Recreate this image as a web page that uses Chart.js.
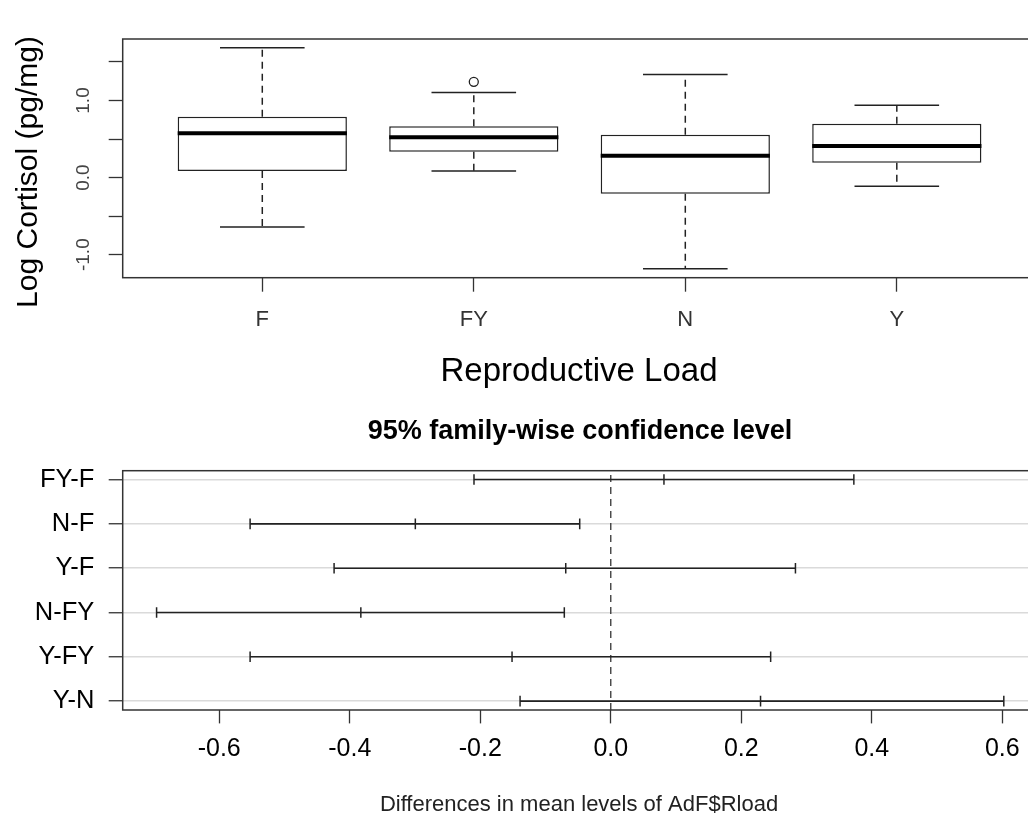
<!DOCTYPE html>
<html><head><meta charset="utf-8">
<script src="https://cdn.jsdelivr.net/npm/chart.js@4.4.0/dist/chart.umd.min.js"></script>
<style>
html,body{margin:0;padding:0;background:#fff;overflow:hidden;width:1028px;height:818px;}
#c1{position:absolute;left:0;top:0;}
#c2{position:absolute;left:0;top:400px;}
</style></head><body>
<canvas id="c1" width="1060" height="400"></canvas>
<canvas id="c2" width="1060" height="418"></canvas>
<script>
// ---------- Top panel: box plot ----------
const groups = ['F', 'FY', 'N', 'Y'];
const whiskerLow = [-0.640, 0.085, -1.184, -0.113];
const q1 = [0.085, 0.335, -0.209, 0.193];
const median = [0.574, 0.522, 0.284, 0.409];
const q3 = [0.789, 0.665, 0.556, 0.698];
const whiskerHigh = [1.683, 1.105, 1.338, 0.937];
const outlierGroup = ['FY'];
const outlierValue = [1.242];
const cortisolTicks = [-1.0, -0.5, 0, 0.5, 1.0, 1.5];
const cortisolTickLabels = ['-1.0', '', '0.0', '', '1.0', ''];

// ---------- Bottom panel: Tukey HSD ----------
const comparisons = ['FY-F', 'N-F', 'Y-F', 'N-FY', 'Y-FY', 'Y-N'];
const diff = [0.0815, -0.2995, -0.069, -0.383, -0.1513, 0.2295];
const lwr = [-0.2096, -0.5527, -0.424, -0.696, -0.5527, -0.139];
const upr = [0.3725, -0.0476, 0.283, -0.0712, 0.245, 0.6023];
const diffTicks = [-0.6, -0.4, -0.2, 0, 0.2, 0.4, 0.6];
const diffTickLabels = ['-0.6', '-0.4', '-0.2', '0.0', '0.2', '0.4', '0.6'];

const FONT = "'Liberation Sans', Arial, Helvetica, sans-serif";
Chart.defaults.font.family = FONT;
const INK = '#222';

function rExtend(lo, hi) { const d = (hi - lo) * 0.04; return [lo - d, hi + d]; }

function framePlugin(texts) {
  return {
    id: 'frame',
    afterDraw(chart) {
      const {ctx, chartArea: a} = chart;
      ctx.save();
      ctx.strokeStyle = '#333';
      ctx.lineWidth = 1.5;
      ctx.strokeRect(a.left, a.top, a.right - a.left, a.bottom - a.top);
      texts.forEach(t => {
        ctx.save();
        ctx.fillStyle = t.color || '#000';
        ctx.font = t.font;
        ctx.textAlign = 'center';
        ctx.textBaseline = 'alphabetic';
        ctx.translate(t.x, t.y);
        if (t.rot) ctx.rotate(t.rot);
        ctx.fillText(t.text, 0, 0);
        ctx.restore();
      });
      ctx.restore();
    }
  };
}

// ---- build top chart ----
const boxHalf = 0.4, capHalf = 0.2;
const gap = x => ({x, y: null});
const boxData = groups.map((g, i) => ({x: i + 1, y: [q1[i], q3[i]]}));
const medianPts = [], capPts = [], whiskPts = [];
groups.forEach((g, i) => {
  const x = i + 1;
  medianPts.push({x: x - boxHalf, y: median[i]}, {x: x + boxHalf, y: median[i]}, gap(x));
  capPts.push({x: x - capHalf, y: whiskerHigh[i]}, {x: x + capHalf, y: whiskerHigh[i]}, gap(x),
              {x: x - capHalf, y: whiskerLow[i]}, {x: x + capHalf, y: whiskerLow[i]}, gap(x));
  whiskPts.push({x, y: q3[i]}, {x, y: whiskerHigh[i]}, gap(x), {x, y: q1[i]}, {x, y: whiskerLow[i]}, gap(x));
});
const outlierPts = outlierGroup.map((g, k) => ({x: groups.indexOf(g) + 1, y: outlierValue[k]}));
const allTop = whiskerLow.concat(whiskerHigh, outlierValue);
const [yTopMin, yTopMax] = rExtend(Math.min(...allTop), Math.max(...allTop));
const [xTopMin, xTopMax] = rExtend(0.5, groups.length + 0.5);

new Chart(document.getElementById('c1'), {
  type: 'bar',
  data: {
    datasets: [
      {type: 'line', data: medianPts, borderColor: '#000', borderWidth: 4, borderCapStyle: 'butt', pointRadius: 0, order: 0},
      {type: 'line', data: capPts, borderColor: INK, borderWidth: 1.5, pointRadius: 0, order: 1},
      {type: 'line', data: whiskPts, borderColor: INK, borderWidth: 1.5, borderDash: [7, 5], pointRadius: 0, order: 2},
      {type: 'scatter', data: outlierPts, pointStyle: 'circle', pointRadius: 4.5, borderColor: INK, backgroundColor: '#fff', pointBorderWidth: 1.3, borderWidth: 1.3, order: 3},
      {type: 'bar', data: boxData, backgroundColor: '#fff', borderColor: INK, borderWidth: 1.5, borderSkipped: false,
       barPercentage: 0.8, categoryPercentage: 1.0, order: 4}
    ]
  },
  options: {
    responsive: false, animation: false, devicePixelRatio: 1, events: [],
    layout: {padding: {left: 0, top: 39, right: 1060 - 1036.4, bottom: 0}},
    plugins: {legend: {display: false}, tooltip: {enabled: false}, title: {display: false}},
    scales: {
      x: {
        type: 'linear', min: xTopMin, max: xTopMax, offset: false,
        afterBuildTicks: s => { s.ticks = groups.map((g, i) => ({value: i + 1})); },
        afterFit: s => { s.height = 400 - 277.7; },
        border: {display: false},
        grid: {offset: false, drawOnChartArea: false, drawTicks: true, tickLength: 14, tickColor: '#333', tickWidth: 1.3},
        ticks: {callback: (v, i) => groups[i], font: {size: 22}, color: '#333', padding: 15, maxRotation: 0, autoSkip: false}
      },
      y: {
        type: 'linear', min: yTopMin, max: yTopMax,
        afterBuildTicks: s => { s.ticks = cortisolTicks.map(v => ({value: v})); },
        afterFit: s => { s.width = 122.7; },
        border: {display: false},
        grid: {drawOnChartArea: false, drawTicks: true, tickLength: 14, tickColor: '#333', tickWidth: 1.3},
        ticks: {callback: (v, i) => cortisolTickLabels[i], font: {size: 19}, color: '#444', padding: 9,
                minRotation: 90, maxRotation: 90, crossAlign: 'center', autoSkip: false}
      }
    }
  },
  plugins: [framePlugin([
    {text: 'Log Cortisol (pg/mg)', font: '30px ' + FONT, x: 36.7, y: 172, rot: -Math.PI / 2},
    {text: 'Reproductive Load', font: '33px ' + FONT, x: 579, y: 380.7}
  ])]
});

// ---- build bottom chart ----
const nC = comparisons.length;
const rowOf = i => nC - i;
const intervalPts = [], markerPts = [];
comparisons.forEach((c, i) => {
  const y = rowOf(i);
  intervalPts.push({x: lwr[i], y}, {x: upr[i], y}, {x: diff[i], y: null});
  markerPts.push({x: lwr[i], y}, {x: diff[i], y}, {x: upr[i], y});
});
const [xBotMin, xBotMax] = rExtend(Math.min(...lwr), Math.max(...upr));
const [yBotMin, yBotMax] = rExtend(1, nC);

new Chart(document.getElementById('c2'), {
  type: 'scatter',
  data: {
    datasets: [
      {type: 'scatter', data: markerPts, pointStyle: 'line', rotation: 90, pointRadius: 5.3,
       borderColor: INK, pointBorderColor: INK, pointBorderWidth: 1.5, borderWidth: 1.5, order: 0},
      {type: 'line', data: intervalPts, borderColor: INK, borderWidth: 1.6, pointRadius: 0, order: 1},
      {type: 'line', data: [{x: 0, y: yBotMin}, {x: 0, y: yBotMax}], borderColor: '#333', borderWidth: 1.3,
       borderDash: [7, 5], pointRadius: 0, order: 2}
    ]
  },
  options: {
    responsive: false, animation: false, devicePixelRatio: 1, events: [],
    layout: {padding: {left: 0, top: 70.7, right: 1060 - 1037.7, bottom: 0}},
    plugins: {legend: {display: false}, tooltip: {enabled: false}, title: {display: false}},
    scales: {
      x: {
        type: 'linear', min: xBotMin, max: xBotMax, offset: false,
        afterBuildTicks: s => { s.ticks = diffTicks.map(v => ({value: v})); },
        afterFit: s => { s.height = 418 - 310; },
        border: {display: false},
        grid: {offset: false, drawOnChartArea: false, drawTicks: true, tickLength: 13.4, tickColor: '#333', tickWidth: 1.3},
        ticks: {callback: (v, i) => diffTickLabels[i], font: {size: 25}, color: '#000', padding: 10.3, maxRotation: 0, autoSkip: false}
      },
      y: {
        type: 'linear', min: yBotMin, max: yBotMax,
        afterBuildTicks: s => { s.ticks = comparisons.map((c, i) => ({value: rowOf(i)})).reverse(); },
        afterFit: s => { s.width = 122.7; },
        border: {display: false},
        grid: {drawOnChartArea: true, color: '#dadada', lineWidth: 1.5, drawTicks: true, tickLength: 14, tickColor: '#333', tickWidth: 1.3},
        ticks: {callback: v => comparisons[nC - v], font: {size: 25.5}, color: '#000', padding: 14.4, autoSkip: false}
      }
    }
  },
  plugins: [framePlugin([
    {text: '95% family-wise confidence level', font: 'bold 27px ' + FONT, x: 580, y: 39},
    {text: 'Differences in mean levels of AdF$Rload', font: '22px ' + FONT, x: 579, y: 411, color: '#222'}
  ])]
});
</script>
</body></html>
